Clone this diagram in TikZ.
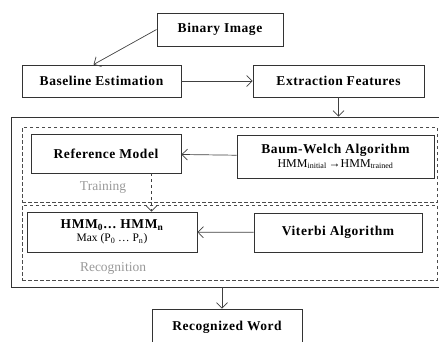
\documentclass[tikz,border=0pt]{standalone}
\usepackage{fontspec}
\setmainfont{Liberation Serif}
\usetikzlibrary{arrows.meta}

\begin{document}
\begin{tikzpicture}[x=1pt, y=-1pt,
    box/.style={draw=black!80, line width=0.9pt, inner sep=0pt, align=center,
        font=\fontsize{13.5}{14.5}\selectfont\bfseries\addfontfeature{LetterSpace=4}},
    frame/.style={draw=black!70, line width=0.7pt, dash pattern=on 3.5pt off 2.5pt, inner sep=0pt},
    link/.style={draw=black!75, line width=0.7pt, -{Straight Barb[length=5.5pt,width=11pt]}},
    tag/.style={text=black!40, font=\fontsize{13.5}{15}\selectfont}]
    \useasboundingbox (0,0) rectangle (439,341);
    % Outer frame
    \node[draw=black!80, line width=0.9pt, inner sep=0pt, minimum width=430pt, minimum height=170pt] (outer) at (226,202) {};
    % Training and recognition frames
    \node[frame, minimum width=415pt, minimum height=75pt] (train) at (229.5,164.5) {};
    \node[frame, minimum width=415pt, minimum height=75pt] (recog) at (229.5,242.5) {};
    % Preprocessing
    \node[box, minimum width=126pt, minimum height=33pt] (bin) at (220,29.5) {Binary Image};
    \node[box, minimum width=159pt, minimum height=32pt] (base) at (101.5,81) {Baseline Estimation};
    \node[box, minimum width=171pt, minimum height=32pt] (extr) at (338.5,81) {Extraction Features};
    % Training
    \node[box, minimum width=150pt, minimum height=39pt] (ref) at (106,153.5) {Reference Model};
    \node[box, minimum width=197pt, minimum height=43pt] (bw) at (335.5,156.5)
        {Baum-Welch Algorithm\\[-1pt]{\normalfont\fontsize{12}{13}\selectfont HMM\textsubscript{initial}\,→HMM\textsubscript{trained}}};
    \node[tag] (traintag) at (103,187) {Training};
    % Recognition
    \node[box, minimum width=170pt, minimum height=40pt] (hmm) at (112,232)
        {HMM\textsubscript{0}… HMM\textsubscript{n}\\[-1pt]{\normalfont\fontsize{11.5}{12}\selectfont Max (P\textsubscript{0} … P\textsubscript{n})}};
    \node[box, minimum width=168pt, minimum height=39pt] (vit) at (338,232.5) {Viterbi Algorithm};
    \node[tag] (recogtag) at (113,268) {Recognition};
    % Output
    \node[box, minimum width=150pt, minimum height=36pt] (rec) at (227,327) {Recognized Word};
    % Connectors
    \draw[link] (bin.west) -- ([xshift=-8pt]base.north);
    \draw[link] (base) -- (extr);
    \draw[link] (extr.south) -- (extr.south |- outer.north);
    \draw[link] (bw) -- (ref);
    \draw[link, dashed] ([xshift=-30pt]ref.south east) -- ([xshift=-30pt]ref.south east |- hmm.north);
    \draw[link] (vit) -- (hmm);
    \draw[link] ([xshift=-5pt]rec.north |- outer.south) -- ([xshift=-5pt]rec.north);
\end{tikzpicture}
\end{document}
